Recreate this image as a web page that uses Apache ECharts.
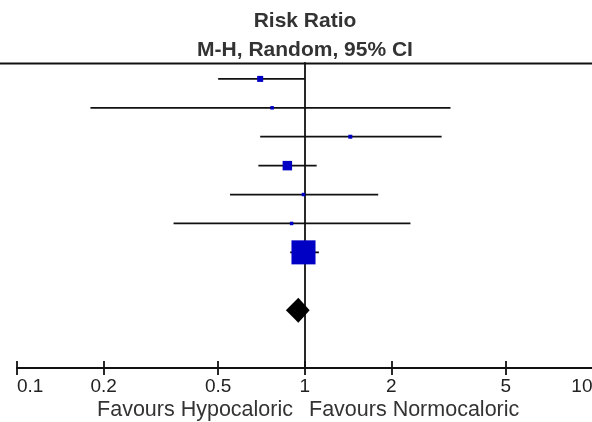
<!DOCTYPE html>
<html>
<head>
<meta charset="utf-8">
<script src="https://cdn.jsdelivr.net/npm/echarts@6/dist/echarts.min.js"></script>
<style>
  html, body { margin: 0; padding: 0; background: #fff; }
  #main { width: 592px; height: 422px; }
</style>
</head>
<body>
<div id="main"></div>
<script>
// studies, top to bottom
const riskRatio = [0.70, 0.77, 1.44, 0.87, 0.99, 0.90, 0.99];
const ciLower = [0.50, 0.18, 0.70, 0.69, 0.55, 0.35, 0.89];
const ciUpper = [1.00, 3.21, 2.99, 1.10, 1.80, 2.33, 1.12];
const weights = [4.8, 1.6, 2.1, 12.0, 1.2, 1.2, 77.0];
// pooled estimate: rr, lower, upper
const pooled = [0.95, 0.86, 1.04];
const pooledRow = 8;
const tickLabels = [0.1, 0.2, 0.5, 1, 2, 5, 10];

const lg = v => Math.log10(v);
const tickValues = tickLabels.map(lg);

const chart = echarts.init(document.getElementById('main'));

const studyData = riskRatio.map((rr, i) => [lg(rr), i, lg(ciLower[i]), lg(ciUpper[i]), weights[i]]);
const pooledData = [[lg(pooled[0]), pooledRow, lg(pooled[1]), lg(pooled[2])]];

function renderStudy(params, api) {
  const row = api.value(1);
  const c = api.coord([api.value(0), row]);
  const lo = api.coord([api.value(2), row]);
  const hi = api.coord([api.value(3), row]);
  const s = Math.max(Math.sqrt(api.value(4)) * 2.74, 3.5);
  return {
    type: 'group',
    children: [
      { type: 'line', shape: { x1: lo[0], y1: lo[1], x2: hi[0], y2: hi[1] },
        style: { stroke: '#111', lineWidth: 1.8 } },
      { type: 'rect', shape: { x: c[0] - s / 2, y: c[1] - s / 2, width: s, height: s },
        style: { fill: '#0000c4' } }
    ]
  };
}

function renderDiamond(params, api) {
  const row = api.value(1);
  const c = api.coord([api.value(0), row]);
  const lo = api.coord([api.value(2), row]);
  const hi = api.coord([api.value(3), row]);
  const h = 12.5;
  return {
    type: 'polygon',
    shape: { points: [[lo[0], c[1]], [c[0], c[1] - h], [hi[0], c[1]], [c[0], c[1] + h]] },
    style: { fill: '#000' }
  };
}

const axisBase = {
  type: 'value',
  min: lg(0.1),
  max: lg(10),
  position: 'bottom',
  splitLine: { show: false }
};

const option = {
  animation: false,
  grid: { left: 17, top: 63, width: 575.5, height: 305, containLabel: false, outerBoundsMode: 'none' },
  xAxis: [
    Object.assign({}, axisBase, {
      axisLine: { show: true, onZero: false, lineStyle: { color: '#111', width: 1.8 } },
      axisTick: { show: true, customValues: tickValues, length: 7, inside: false,
        lineStyle: { color: '#111', width: 1.8 } },
      axisLabel: {
        customValues: tickValues,
        margin: 9,
        color: '#222',
        fontSize: 19,
        fontFamily: 'Liberation Sans',
        alignMinLabel: 'left',
        alignMaxLabel: 'right',
        formatter: v => String(Number(Math.pow(10, v).toPrecision(3)))
      }
    }),
    Object.assign({}, axisBase, {
      axisLine: { show: false, onZero: false },
      axisTick: { show: true, customValues: tickValues, length: 7, inside: true,
        lineStyle: { color: '#111', width: 1.8 } },
      axisLabel: { show: false }
    })
  ],
  yAxis: {
    type: 'value',
    min: -0.55,
    max: 10,
    inverse: true,
    axisLine: { show: true, onZero: true, lineStyle: { color: '#111', width: 1.8 } },
    axisTick: { show: false },
    axisLabel: { show: false },
    splitLine: { show: false }
  },
  graphic: [
    { type: 'line', shape: { x1: 0, y1: 63.5, x2: 592, y2: 63.5 },
      style: { stroke: '#111', lineWidth: 1.8 } },
    { type: 'text', x: 305, y: 21,
      style: { text: 'Risk Ratio', fill: '#333', font: 'bold 21px "Liberation Sans"',
        textAlign: 'center', textVerticalAlign: 'middle' } },
    { type: 'text', x: 305, y: 50,
      style: { text: 'M-H, Random, 95% CI', fill: '#333', font: 'bold 21px "Liberation Sans"',
        textAlign: 'center', textVerticalAlign: 'middle' } },
    { type: 'text', x: 293, y: 410,
      style: { text: 'Favours Hypocaloric', fill: '#333', font: '21.5px "Liberation Sans"',
        textAlign: 'right', textVerticalAlign: 'middle' } },
    { type: 'text', x: 309, y: 410,
      style: { text: 'Favours Normocaloric', fill: '#333', font: '21.5px "Liberation Sans"',
        textAlign: 'left', textVerticalAlign: 'middle' } }
  ],
  series: [
    {
      type: 'custom',
      renderItem: renderStudy,
      encode: { x: [0, 2, 3], y: 1 },
      data: studyData,
      z: 3
    },
    {
      type: 'custom',
      renderItem: renderDiamond,
      encode: { x: [0, 2, 3], y: 1 },
      data: pooledData,
      z: 3
    }
  ]
};

chart.setOption(option);
</script>
</body>
</html>
